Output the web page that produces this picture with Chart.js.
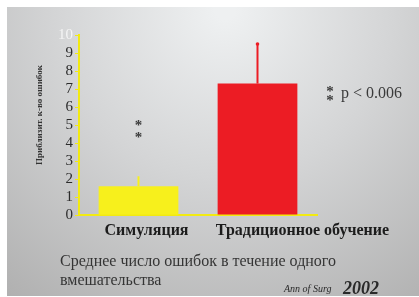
<!DOCTYPE html>
<html>
<head>
<meta charset="utf-8">
<script src="https://cdn.jsdelivr.net/npm/chart.js@4"></script>
<style>
    html, body { margin: 0; padding: 0; background: #fff; }
    #wrap { width: 419px; height: 297px; }
</style>
</head>
<body>
<div id="wrap"><canvas id="errChart" width="419" height="297"></canvas></div>
<script>
const categories = ["Симуляция", "Традиционное обучение"];
const meanErrors = [1.6, 7.3];
const errorTops = [2.15, 9.5];
const yTicks = [0, 1, 2, 3, 4, 5, 6, 7, 8, 9, 10];
const barColors = ["#f7f01c", "#ec1c24"];

const axisYellow = "#f2ea12";
const serif = '"Liberation Serif", "DejaVu Serif", serif';

// slide background + error bars + annotations
const slidePlugin = {
    id: "slide",
    beforeDraw(chart) {
        const c = chart.ctx;
        c.save();
        c.fillStyle = "#ffffff";
        c.fillRect(0, 0, chart.width, chart.height);
        const g = c.createRadialGradient(225, 10, 10, 225, 10, 360);
        g.addColorStop(0, "#eef0f1");
        g.addColorStop(0.45, "#d4d5d6");
        g.addColorStop(1, "#b0b0b0");
        c.fillStyle = g;
        c.fillRect(7, 7, chart.width - 7, chart.height - 8);
        c.restore();
    },
    afterDatasetsDraw(chart) {
        const c = chart.ctx;
        const xs = chart.scales.x, ys = chart.scales.y;
        c.save();
        c.lineWidth = 2;
        meanErrors.forEach((v, i) => {
            const x = xs.getPixelForValue(i);
            c.strokeStyle = barColors[i];
            c.beginPath();
            c.moveTo(x, ys.getPixelForValue(v));
            c.lineTo(x, ys.getPixelForValue(errorTops[i]));
            c.stroke();
        });
        // small cap on the red one
        c.fillStyle = barColors[1];
        c.beginPath();
        c.arc(xs.getPixelForValue(1), ys.getPixelForValue(errorTops[1]), 1.8, 0, Math.PI * 2);
        c.fill();
        c.restore();
    },
    afterDraw(chart) {
        const c = chart.ctx;
        const xs = chart.scales.x;
        c.save();

        // y axis title
        c.translate(40, 115);
        c.rotate(-Math.PI / 2);
        c.font = "bold 9px " + serif;
        c.fillStyle = "#333";
        c.textAlign = "center";
        c.textBaseline = "middle";
        c.fillText("Приблизит. к-во ошибок", 0, 0);
        c.setTransform(1, 0, 0, 1, 0, 0);

        // significance stars
        c.font = "bold 15px " + serif;
        c.fillStyle = "#3a3a3a";
        c.textAlign = "center";
        c.textBaseline = "middle";
        const sx = xs.getPixelForValue(0);
        c.fillText("*", sx, 126);
        c.fillText("*", sx, 138);
        c.fillText("*", 330, 92);
        c.fillText("*", 330, 101);
        c.font = "16px " + serif;
        c.textAlign = "left";
        c.fillText("p < 0.006", 341, 94);

        // category labels
        c.font = "bold 16px " + serif;
        c.fillStyle = "#1c1c1c";
        c.textAlign = "center";
        c.fillText(categories[0], xs.getPixelForValue(0) + 8, 231);
        c.fillText(categories[1], xs.getPixelForValue(1) + 45, 231);

        // caption
        c.font = "16px " + serif;
        c.fillStyle = "#353535";
        c.textAlign = "left";
        c.fillText("Среднее число ошибок в течение одного", 60, 262);
        c.fillText("вмешательства", 60, 281);

        // source
        c.textBaseline = "alphabetic";
        c.font = "italic 10px " + serif;
        c.fillStyle = "#2a2a2a";
        c.fillText("Ann of Surg", 284, 292);
        c.font = "bold italic 18px " + serif;
        c.fillText("2002", 343, 294);
        c.restore();
    }
};

new Chart(document.getElementById("errChart"), {
    type: "bar",
    data: {
        labels: categories,
        datasets: [{
            data: meanErrors,
            backgroundColor: barColors,
            borderWidth: 0,
            barPercentage: 0.67,
            categoryPercentage: 1.0
        }]
    },
    options: {
        responsive: false,
        animation: false,
        devicePixelRatio: 1,
        layout: { padding: { top: 35, right: 102, left: 0, bottom: 0 } },
        plugins: {
            legend: { display: false },
            tooltip: { enabled: false }
        },
        scales: {
            x: {
                offset: true,
                grid: { display: false },
                border: { color: axisYellow, width: 2 },
                ticks: { display: false },
                afterFit: s => { s.height = 82; }
            },
            y: {
                min: 0,
                max: 10,
                afterBuildTicks: s => { s.ticks = yTicks.map(v => ({ value: v })); },
                ticks: {
                    autoSkip: false,
                    padding: 2,
                    font: { family: serif, size: 15 },
                    color: ctx => ctx.tick.value === 10 ? "rgba(255,255,255,0.75)" : "#2b2b2b"
                },
                grid: {
                    drawOnChartArea: false,
                    drawTicks: true,
                    tickLength: 4,
                    color: axisYellow,
                    lineWidth: 1
                },
                border: { color: axisYellow, width: 2 },
                afterFit: s => { s.width = 79; }
            }
        }
    },
    plugins: [slidePlugin]
});
</script>
</body>
</html>
